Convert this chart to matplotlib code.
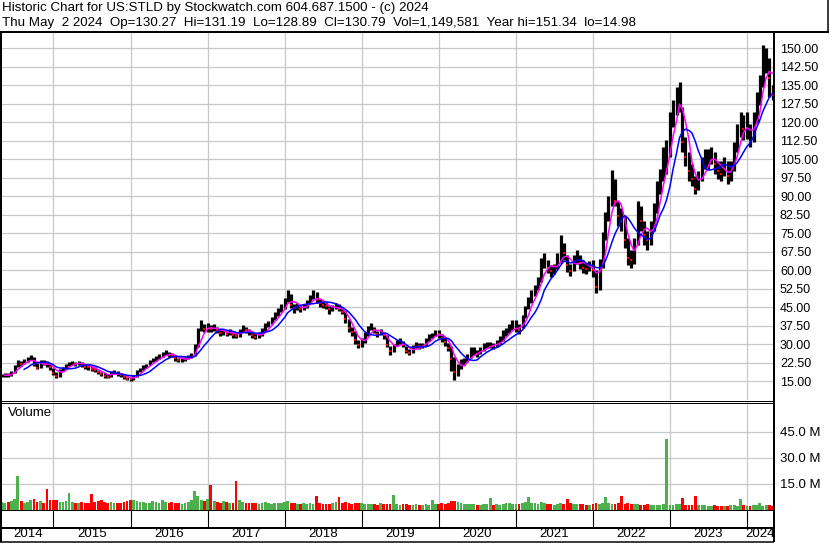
import matplotlib
matplotlib.use("Agg")
import matplotlib.pyplot as plt
from matplotlib.lines import Line2D
import numpy as np
import pandas as pd

plt.rcParams['font.family'] = ['Liberation Sans', 'DejaVu Sans']

W, H = 830, 543

# semi-monthly samples (1st / 15th), May 2014 .. May 2024
close = [
    # 2014 May-Dec
    17.2, 17.5, 17.4, 18.0, 20.5, 22.5, 22.0, 22.8, 23.6, 24.8, 22.0, 20.3, 22.6, 22.4, 21.8, 20.6,
    # 2015
    18.2, 17.0, 19.2, 20.0, 21.0, 22.0, 22.4, 22.0, 22.3, 21.8, 20.8, 20.5, 20.0, 19.6, 18.5, 17.8, 17.2, 16.8, 18.3, 18.8, 17.8, 17.3, 16.6, 16.0,
    # 2016
    15.8, 16.5, 18.6, 19.6, 20.5, 21.2, 22.5, 23.5, 24.0, 24.8, 25.8, 26.5, 25.6, 25.4, 24.2, 23.5, 23.7, 24.0, 24.8, 25.3, 28.5, 35.0, 37.5, 36.0,
    # 2017
    36.5, 36.2, 36.8, 35.5, 34.6, 34.8, 34.2, 35.0, 33.8, 33.2, 35.0, 36.3, 35.5, 34.8, 33.5, 33.0, 33.4, 35.2, 37.0, 38.2, 39.5, 41.5, 43.0, 44.5,
    # 2018
    47.5, 50.5, 46.0, 44.5, 45.5, 44.0, 45.0, 46.5, 48.5, 50.5, 48.0, 46.5, 46.0, 45.5, 44.0, 44.5, 45.5, 44.2, 43.0, 40.0, 36.5, 35.0, 31.5, 29.5,
    # 2019
    31.0, 33.5, 36.0, 37.0, 35.5, 34.0, 34.8, 33.5, 29.5, 27.0, 29.0, 30.5, 31.2, 29.5, 27.0, 26.3, 28.2, 29.8, 29.0, 29.3, 31.5, 32.8, 33.5, 34.5,
    # 2020
    34.0, 32.5, 30.8, 28.5, 24.0, 18.5, 20.5, 22.5, 23.0, 24.5, 26.5, 27.0, 26.0, 27.5, 29.0, 29.5, 29.8, 29.2, 30.5, 31.5, 33.5, 35.0, 36.2, 37.0,
    # 2021
    37.0, 35.5, 40.0, 43.5, 47.5, 50.0, 52.0, 54.5, 62.0, 64.5, 61.0, 59.5, 60.5, 64.0, 69.5, 67.0, 62.0, 59.5, 63.0, 65.5, 63.0, 61.0, 60.5, 62.0,
    # 2022
    60.0, 53.0, 62.0, 72.0, 80.0, 86.0, 96.0, 88.0, 82.0, 80.0, 72.0, 65.0, 64.0, 70.0, 82.0, 80.0, 74.0, 72.0, 76.0, 84.0, 92.0, 98.0, 104.0, 106.0,
    # 2023
    120.0, 126.0, 130.0, 133.0, 112.0, 106.0, 100.0, 97.0, 93.0, 96.0, 102.0, 105.0, 105.0, 107.0, 103.0, 100.0, 99.0, 102.0, 98.0, 100.0, 110.0, 116.0, 120.0, 117.0,
    # 2024 Jan-May
    118.0, 112.0, 120.0, 128.0, 134.0, 144.0, 146.0, 138.0, 131.0,
]

high = [
    18.0, 18.3, 18.2, 19.2, 21.6, 23.6, 23.2, 23.8, 24.6, 25.6, 24.6, 22.2, 23.6, 23.4, 23.0, 22.2,
    20.4, 18.6, 19.8, 20.8, 21.8, 22.8, 23.2, 22.8, 23.0, 22.6, 21.8, 21.4, 21.0, 20.6, 19.6, 18.8, 18.2, 17.8, 19.2, 19.6, 19.0, 18.2, 17.6, 16.8,
    16.8, 17.4, 19.4, 20.4, 21.4, 22.0, 23.4, 24.4, 25.0, 25.8, 26.8, 27.6, 26.8, 26.4, 25.4, 24.4, 24.6, 24.8, 25.6, 26.2, 30.0, 36.4, 39.6, 38.0,
    38.6, 37.6, 38.2, 37.0, 36.0, 35.8, 35.4, 36.2, 35.0, 34.6, 36.2, 37.8, 37.0, 36.0, 34.8, 34.4, 35.0, 36.4, 38.4, 39.4, 41.0, 42.8, 44.6, 46.4,
    48.8, 52.0, 50.2, 46.2, 46.8, 45.8, 46.2, 47.8, 49.8, 52.0, 51.0, 48.2, 47.4, 47.0, 45.6, 45.8, 46.8, 46.4, 45.2, 43.2, 40.2, 37.0, 35.2, 31.8,
    32.4, 34.8, 37.4, 38.6, 36.8, 35.4, 36.0, 35.0, 33.6, 29.2, 30.2, 31.6, 32.4, 31.4, 29.2, 28.0, 29.4, 30.8, 30.4, 30.6, 32.6, 34.0, 34.6, 35.6,
    35.6, 34.2, 32.4, 30.6, 29.0, 24.6, 22.0, 24.0, 24.4, 25.8, 28.8, 28.6, 27.6, 28.6, 30.6, 31.0, 31.0, 30.4, 31.8, 33.2, 35.6, 36.6, 38.0, 39.6,
    39.6, 38.0, 41.8, 45.4, 49.2, 52.0, 53.8, 57.0, 65.0, 67.0, 64.0, 62.0, 62.6, 67.0, 74.2, 71.0, 66.0, 62.6, 66.0, 68.0, 66.2, 64.0, 62.8, 63.6,
    64.0, 60.0, 64.6, 75.6, 83.4, 90.0, 100.6, 97.0, 88.0, 85.0, 82.0, 73.0, 68.0, 73.0, 88.0, 86.0, 80.0, 76.0, 80.0, 87.0, 96.0, 101.0, 110.0, 112.6,
    124.0, 129.0, 134.0, 136.3, 126.0, 114.0, 108.0, 103.0, 98.0, 100.0, 106.0, 109.0, 109.0, 110.0, 108.0, 104.0, 104.0, 106.0, 104.0, 104.0, 112.0, 119.0, 124.0, 123.0,
    124.0, 119.0, 124.0, 132.0, 139.0, 151.3, 150.0, 146.0, 135.0,
]

low = [
    16.6, 16.8, 16.8, 17.2, 18.2, 20.6, 21.2, 21.8, 22.6, 23.4, 21.2, 19.8, 20.2, 21.6, 20.8, 19.4,
    17.6, 16.4, 16.8, 19.0, 20.0, 21.0, 21.6, 21.2, 21.4, 20.8, 20.0, 19.6, 19.2, 18.8, 17.8, 17.0, 16.4, 16.2, 16.8, 18.0, 17.2, 16.8, 16.0, 15.4,
    14.98, 15.6, 16.6, 18.8, 19.6, 20.4, 21.6, 22.6, 23.2, 23.8, 24.8, 25.6, 24.8, 24.6, 23.2, 22.6, 22.8, 23.2, 23.8, 24.4, 25.2, 28.8, 35.2, 35.0,
    35.0, 35.0, 35.4, 34.4, 33.4, 33.6, 33.2, 33.8, 32.6, 32.4, 33.0, 34.8, 34.4, 33.6, 32.4, 32.0, 32.4, 33.2, 35.4, 36.8, 38.0, 39.6, 41.4, 42.8,
    44.2, 47.0, 44.6, 42.6, 43.8, 42.8, 43.6, 44.8, 46.6, 48.4, 46.6, 45.0, 44.6, 44.0, 42.0, 43.2, 44.0, 43.4, 42.0, 38.6, 35.0, 33.4, 30.2, 28.2,
    28.8, 30.6, 33.4, 35.6, 34.4, 32.8, 33.6, 32.2, 28.6, 25.6, 26.8, 29.0, 30.0, 28.6, 26.2, 25.4, 26.4, 28.2, 27.8, 28.2, 29.2, 31.4, 32.4, 33.2,
    32.6, 31.0, 29.0, 27.2, 19.0, 15.4, 17.2, 19.8, 21.6, 22.8, 24.2, 25.6, 24.8, 25.8, 27.2, 28.2, 28.4, 27.8, 28.6, 30.0, 31.2, 33.2, 34.6, 35.6,
    35.0, 34.0, 36.6, 40.6, 44.2, 46.8, 49.6, 52.0, 55.2, 61.0, 58.6, 57.2, 58.4, 60.4, 63.0, 64.0, 59.0, 57.6, 59.6, 62.4, 60.4, 58.8, 58.2, 59.6,
    57.0, 50.8, 52.0, 61.0, 72.0, 80.0, 86.0, 86.0, 78.0, 76.0, 69.0, 62.0, 61.0, 62.6, 70.0, 76.0, 70.0, 68.0, 70.0, 76.0, 83.0, 91.0, 96.0, 99.0,
    106.0, 118.0, 123.0, 124.0, 108.0, 102.0, 96.0, 94.0, 91.0, 92.5, 96.0, 101.0, 101.0, 103.0, 99.0, 97.0, 96.0, 98.0, 95.0, 96.0, 100.0, 108.0, 114.0, 112.7,
    113.0, 109.8, 112.0, 119.6, 127.0, 134.0, 140.0, 130.0, 128.9,
]

# volume in millions of shares
volume = [
    4.5, 4.0, 4.8, 5.2, 6.5, 19.6, 5.0, 4.2, 4.8, 5.5, 6.5, 4.8, 5.0, 4.2, 12.0, 5.5,
    6.0, 5.5, 4.8, 4.5, 5.0, 10.0, 4.6, 4.2, 4.0, 4.5, 4.2, 3.8, 9.0, 4.5, 5.0, 5.5, 4.8, 4.2, 4.5, 4.0, 3.8, 4.2, 4.5, 5.0,
    5.5, 6.0, 5.2, 4.8, 4.5, 4.2, 4.0, 5.0, 4.5, 4.2, 5.5, 4.8, 4.0, 4.5, 3.8, 4.2, 3.6, 4.0, 4.5, 6.0, 11.0, 8.0, 5.5, 5.0,
    6.5, 14.2, 5.0, 4.5, 4.2, 5.0, 4.8, 4.0, 3.8, 16.7, 5.5, 4.5, 4.2, 4.0, 3.8, 4.2, 3.6, 4.0, 4.5, 3.8, 3.5, 4.0, 4.2, 3.8,
    4.5, 5.0, 3.8, 4.2, 3.6, 3.5, 4.0, 3.4, 3.8, 3.6, 8.0, 4.0, 3.5, 3.2, 3.6, 3.8, 4.5, 7.7, 4.2, 4.8, 4.0, 3.6, 3.8, 4.2,
    4.0, 3.6, 3.4, 3.2, 3.5, 3.0, 3.8, 3.4, 3.6, 3.2, 8.7, 3.5, 3.0, 3.2, 3.6, 3.0, 2.8, 3.2, 3.0, 2.8, 3.2, 3.0, 5.8, 3.4,
    3.5, 3.8, 3.2, 4.0, 5.2, 5.0, 4.8, 4.0, 3.6, 3.4, 3.2, 3.5, 3.0, 2.8, 3.2, 3.6, 7.0, 3.0, 3.2, 2.8, 3.4, 3.8, 4.0, 3.5,
    3.6, 3.2, 4.0, 4.5, 7.5, 4.2, 3.8, 3.5, 4.5, 4.0, 3.6, 3.2, 3.0, 3.4, 3.8, 3.6, 6.2, 3.8, 3.5, 3.2, 3.6, 3.4, 3.0, 2.8,
    3.2, 4.0, 3.6, 3.8, 7.7, 4.0, 3.6, 3.4, 3.8, 8.0, 3.6, 4.0, 3.4, 3.2, 3.6, 3.0, 2.8, 3.2, 3.0, 2.8, 3.0, 2.8, 3.2, 40.8,
    3.0, 2.8, 3.2, 3.4, 7.0, 3.0, 2.8, 2.6, 8.0, 3.0, 2.6, 2.8, 2.5, 2.4, 2.6, 2.2, 2.5, 2.4, 2.2, 2.6, 2.8, 2.4, 6.5, 2.6,
    2.4, 2.2, 2.8, 2.6, 3.8, 2.4, 2.6, 3.0, 2.2,
]

years = list(range(2014, 2025))
price_ticks = np.arange(15, 151, 7.5)
vol_ticks = [15, 30, 45]

header1 = "Historic Chart for US:STLD by Stockwatch.com 604.687.1500 - (c) 2024"
header2 = ("Thu May  2 2024  Op=130.27  Hi=131.19  Lo=128.89  Cl=130.79  "
           "Vol=1,149,581  Year hi=151.34  lo=14.98")

dates = pd.date_range("2014-05-01", "2024-05-01", freq="SMS")
close = np.array(close)
s = pd.Series(close, index=dates)
ma_fast = s.rolling(4, min_periods=2).mean()
ma_slow = s.rolling(8, min_periods=8).mean()
up = np.diff(np.r_[close[0], close]) >= 0

xlim = (pd.Timestamp("2014-05-02"), pd.Timestamp("2024-05-03"))
year_starts = [pd.Timestamp(f"{y}-01-01") for y in years[1:]]

fig = plt.figure(figsize=(W / 100, H / 100), dpi=100)


def rect(l, t, r, b):
    return [l / W, 1 - b / H, (r - l) / W, (b - t) / H]


def line(x0, y0, x1, y1, lw=1.0):
    # pixel coords, lw in pixels
    fig.add_artist(Line2D([x0 / W, x1 / W], [1 - y0 / H, 1 - y1 / H],
                          color="black", lw=lw * 0.72, transform=fig.transFigure,
                          solid_capstyle="butt"))


grid_kw = dict(color="#c8c8c8", lw=0.9)

# price panel
ax = fig.add_axes(rect(2, 32, 773, 400))
ax.vlines(dates, low, high, color="black", lw=2.3, zorder=3)
ax.plot(dates[~up], close[~up], ls="none", marker="s", ms=1.8, mew=0, color="red", zorder=4)
ax.plot(ma_fast.index, ma_fast.values, color="#ff00ff", lw=1.1, zorder=5)
ax.plot(ma_slow.index, ma_slow.values, color="#0000ff", lw=1.1, zorder=5)
ax.set_xlim(xlim)
ax.set_ylim(7.3, 156.5)
ax.set_yticks(price_ticks)
ax.set_yticklabels([f"{v:.2f}" for v in price_ticks])
ax.yaxis.tick_right()
ax.set_xticks(year_starts)
ax.tick_params(length=0, labelsize=9, pad=5, labelbottom=False)
ax.grid(True, **grid_kw)
ax.set_axisbelow(True)
for sp in ax.spines.values():
    sp.set_visible(False)
ax.text(7, 42, "US:STLD", fontsize=9.5, transform=None)

# volume panel
vax = fig.add_axes(rect(2, 402, 773, 510))
vax.bar(dates, volume, width=13, color=np.where(up, "#4cb04c", "#ff0000"), zorder=3)
vax.set_xlim(xlim)
vax.set_ylim(0, 62)
vax.set_yticks(vol_ticks)
vax.set_yticklabels([f"{v:.1f} M" for v in vol_ticks])
vax.yaxis.tick_right()
vax.set_xticks(year_starts)
vax.tick_params(length=0, labelsize=9.5, pad=5, labelbottom=False)
vax.grid(True, **grid_kw)
vax.set_axisbelow(True)
for sp in vax.spines.values():
    sp.set_visible(False)

# year strip
dax = fig.add_axes(rect(2, 510, 773, 541))
dax.set_xlim(xlim)
dax.set_ylim(0, 31)
dax.axis("off")
dax.vlines(year_starts, 14, 31, color="black", lw=0.8)
edges = [xlim[0]] + year_starts + [xlim[1]]
for y, a, b in zip(years, edges[:-1], edges[1:]):
    dax.text(a + (b - a) / 2, 7, str(y), ha="center", va="center", fontsize=9.5)

# header and frame
fig.text(2 / W, 1 - 8 / H, header1, fontsize=9.6, va="center")
fig.text(2 / W, 1 - 23 / H, header2, fontsize=9.6, va="center")
fig.text(8 / W, 1 - 413 / H, "Volume", fontsize=9.5, va="center")

line(0, 31.5, 829, 31.5, 2)
line(828, 0, 828, 32, 1.5)
line(1, 31, 1, 542, 2)
line(774, 31, 774, 542, 2)
line(0, 400.5, 774, 400.5, 1)
line(0, 402.5, 774, 402.5, 1)
line(0, 510, 774, 510, 1)
line(0, 527.5, 774, 527.5, 2)
line(0, 541.5, 774, 541.5, 1.5)

fig.savefig("out.png", dpi=100)
